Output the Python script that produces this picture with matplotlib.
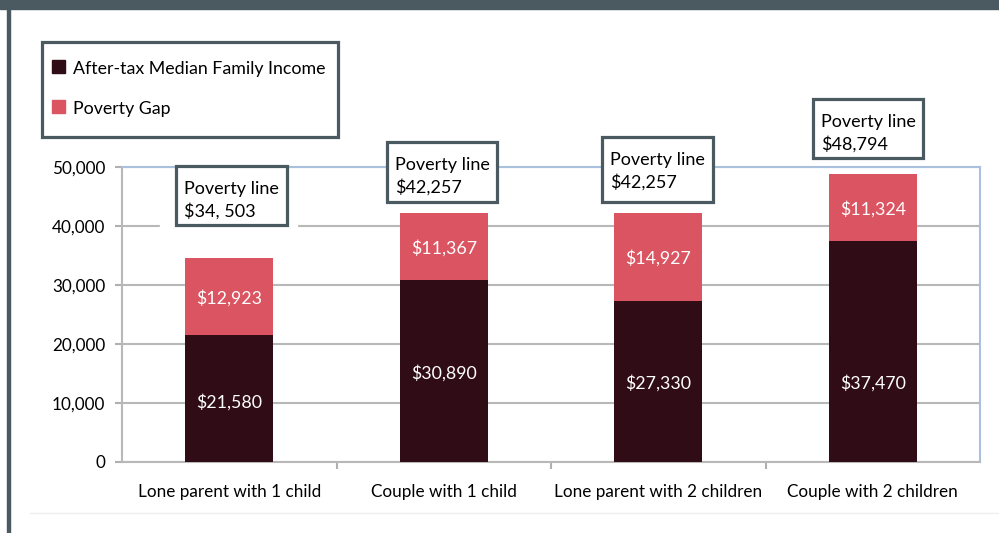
import matplotlib.pyplot as plt
import matplotlib.patches as mpatches
import numpy as np

plt.rcParams['font.family'] = ['Lato', 'DejaVu Sans']

categories = ['Lone parent with 1 child', 'Couple with 1 child',
              'Lone parent with 2 children', 'Couple with 2 children']
income = [21580, 30890, 27330, 37470]
gap = [12923, 11367, 14927, 11324]
poverty_labels = ['$34, 503', '$42,257', '$42,257', '$48,794']
series_names = ['After-tax Median Family Income', 'Poverty Gap']
yticks = [0, 10000, 20000, 30000, 40000, 50000]

dark = '#300c16'
red = '#db5461'
border = '#4b5961'

fig = plt.figure(figsize=(9.99, 5.33), dpi=100)
W, H = 999, 533

def fx(px):
    return px / W

def fy(py):
    return 1 - py / H

def box(l, t, r, b, **kw):
    p = mpatches.Rectangle((fx(l), fy(b)), (r - l) / W, (b - t) / H,
                           transform=fig.transFigure, **kw)
    fig.patches.append(p)
    return p

# frame decorations
box(0, 0, W, 9, color=border, zorder=0)
box(7, 0, 10, H, color=border, zorder=0)
fig.lines.append(plt.Line2D([fx(30), 1], [fy(513)] * 2, transform=fig.transFigure,
                            color='#eeeeee', lw=1))

ax = fig.add_axes([fx(122), fy(462), (980 - 122) / W, (462 - 167) / H])
x = np.arange(len(categories))
ax.bar(x, income, width=0.41, color=dark, zorder=3)
ax.bar(x, gap, width=0.41, bottom=income, color=red, zorder=3)

# label heights as placed in the original chart
inc_label_y = [10100, 15100, 13400, 13400]
for i in range(len(categories)):
    ax.text(x[i], inc_label_y[i], '$' + format(income[i], ','), ha='center', va='center',
            color='white', fontsize=12.8, zorder=4)
    ax.text(x[i], income[i] + gap[i] / 2 - 300, '$' + format(gap[i], ','), ha='center',
            va='center', color='white', fontsize=12.8, zorder=4)

ax.set_xlim(-0.5, 3.5)
ax.set_ylim(0, 50000)
ax.set_yticks(yticks)
ax.set_yticklabels([format(v, ',') for v in yticks], fontsize=12.3)
ax.set_xticks(x)
ax.set_xticklabels(categories, fontsize=12.3)
ax.tick_params(axis='x', length=0, pad=16)
ax.set_xticks([0.5, 1.5, 2.5], minor=True)
ax.tick_params(axis='x', which='minor', length=5, color='#b0b0b0', width=1.5)
ax.tick_params(axis='y', length=5, color='#b0b0b0', width=1.5, pad=7)
ax.grid(axis='y', color='#b8b8b8', lw=1.5, zorder=1)
for s in ['left', 'bottom']:
    ax.spines[s].set_color('#b8b8b8')
    ax.spines[s].set_linewidth(1.5)
for s in ['top', 'right']:
    ax.spines[s].set_color('#a9c1dd')
    ax.spines[s].set_linewidth(1.5)

# white patch below first poverty-line box
box(160, 224, 297, 248, color='white', zorder=5)

# poverty line boxes: left, top, right, bottom in px
box_pos = [(176, 166, 287, 225), (387, 142, 497, 202), (602, 137, 713, 202), (813, 99, 923, 158)]
for (l, t, r, b), lab in zip(box_pos, poverty_labels):
    box(l, t, r, b, fc='white', ec=border, lw=2.3, zorder=9)
    fig.text(fx(l + 8), fy(t + 28), 'Poverty line', fontsize=13, ha='left', va='baseline', zorder=10)
    fig.text(fx(l + 8), fy(t + 51), lab, fontsize=13, ha='left', va='baseline', zorder=10)

# legend
box(42, 42, 338, 137, fc='white', ec=border, lw=2.3, zorder=9)
for k, (name, col) in enumerate(zip(series_names, [dark, red])):
    yc = 69 + 40 * k
    box(52, yc - 9, 65, yc + 4, color=col, zorder=10)
    fig.text(fx(73), fy(yc), name, fontsize=12.8, ha='left', va='center', zorder=10)

fig.savefig('out.png', dpi=100)
